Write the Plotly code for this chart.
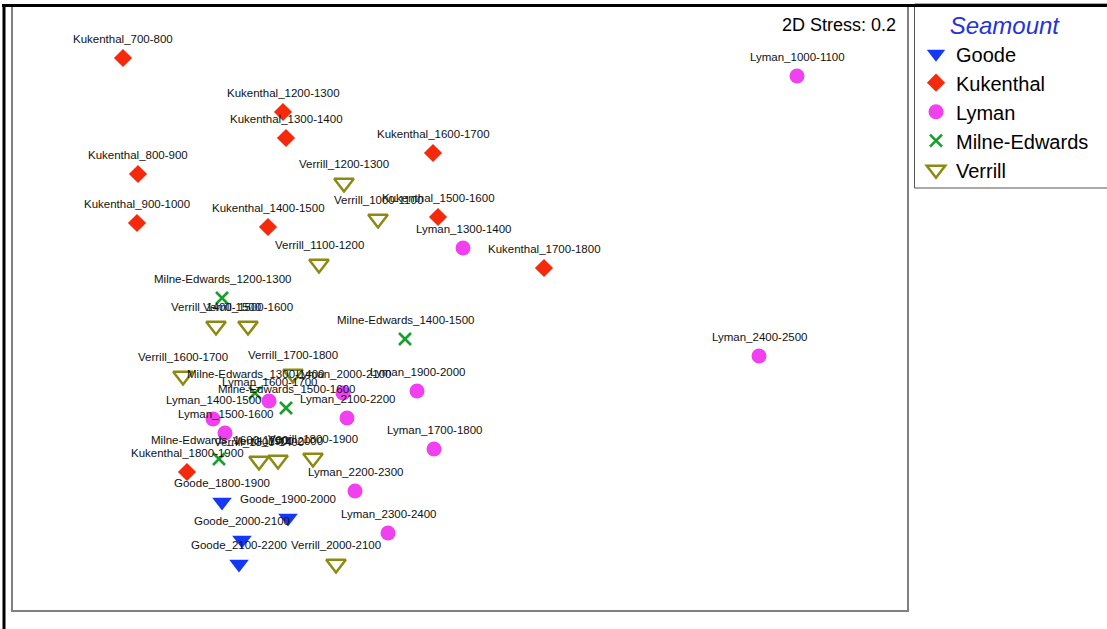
import plotly.graph_objects as go

# MDS ordination coordinates (dimension 1, dimension 2) for each seamount / depth band
goode_labels = ["Goode_1800-1900", "Goode_1900-2000", "Goode_2000-2100", "Goode_2100-2200"]
goode_x = [-1.19, -0.86, -1.09, -1.105]
goode_y = [-0.97, -1.05, -1.16, -1.28]

kukenthal_labels = ["Kukenthal_700-800", "Kukenthal_800-900", "Kukenthal_900-1000",
                    "Kukenthal_1200-1300", "Kukenthal_1300-1400", "Kukenthal_1400-1500",
                    "Kukenthal_1500-1600", "Kukenthal_1600-1700", "Kukenthal_1700-1800",
                    "Kukenthal_1800-1900"]
kukenthal_x = [-1.685, -1.61, -1.615, -0.885, -0.87, -0.96, -0.11, -0.135, 0.42, -1.365]
kukenthal_y = [1.25, 0.67, 0.425, 0.98, 0.85, 0.405, 0.455, 0.775, 0.2, -0.82]

lyman_labels = ["Lyman_1000-1100", "Lyman_1300-1400", "Lyman_1400-1500", "Lyman_1500-1600",
                "Lyman_1600-1700", "Lyman_1700-1800", "Lyman_1900-2000", "Lyman_2000-2100",
                "Lyman_2100-2200", "Lyman_2200-2300", "Lyman_2300-2400", "Lyman_2400-2500"]
lyman_x = [1.685, 0.015, -1.235, -1.175, -0.955, -0.13, -0.215, -0.585, -0.565, -0.525, -0.36, 1.495]
lyman_y = [1.16, 0.3, -0.555, -0.625, -0.465, -0.705, -0.415, -0.425, -0.55, -0.915, -1.125, -0.24]

milne_labels = ["Milne-Edwards_1200-1300", "Milne-Edwards_1300-1400", "Milne-Edwards_1400-1500",
                "Milne-Edwards_1500-1600", "Milne-Edwards_1600-1700"]
milne_x = [-1.19, -1.025, -0.275, -0.87, -1.205]
milne_y = [0.05, -0.425, -0.155, -0.5, -0.755]

verrill_labels = ["Verrill_1000-1100", "Verrill_1100-1200", "Verrill_1200-1300",
                  "Verrill_1300-1400", "Verrill_1400-1500", "Verrill_1500-1600",
                  "Verrill_1600-1700", "Verrill_1700-1800", "Verrill_1800-1900",
                  "Verrill_1900-2000", "Verrill_2000-2100"]
verrill_x = [-0.41, -0.705, -0.58, -1.005, -1.22, -1.06, -1.385, -0.835, -0.735, -0.91, -0.62]
verrill_y = [0.445, 0.22, 0.625, -0.765, -0.09, -0.09, -0.34, -0.33, -0.75, -0.76, -1.28]

stress_text = "2D Stress: 0.2"

FONT = "Arial, Liberation Sans, sans-serif"

groups = [
    # name, labels, x, y, symbol, colour, size, line width
    ("Goode", goode_labels, goode_x, goode_y, "triangle-down", "#1438f5", 17, 0),
    ("Kukenthal", kukenthal_labels, kukenthal_x, kukenthal_y, "diamond", "#f52a0c", 14, 0),
    ("Lyman", lyman_labels, lyman_x, lyman_y, "circle", "#f040f0", 15, 0),
    ("Milne-Edwards", milne_labels, milne_x, milne_y, "x-thin-open", "#16a02a", 12, 2.6),
    ("Verrill", verrill_labels, verrill_x, verrill_y, "triangle-down-open", "#8c8a12", 17, 2.5),
]

fig = go.Figure()
annotations = []
for name, labels, xs, ys, sym, col, size, lw in groups:
    marker = dict(symbol=sym, color=col, size=size)
    if lw:
        marker["line"] = dict(color=col, width=lw)
    else:
        marker["line"] = dict(width=0)
    fig.add_trace(go.Scatter(x=xs, y=ys, mode="markers", name=name, marker=marker,
                             hoverinfo="text", text=labels))
    for lab, x, y in zip(labels, xs, ys):
        annotations.append(dict(x=x, y=y, xref="x", yref="y", text=lab, showarrow=False,
                                yshift=19, font=dict(family=FONT, size=11.5, color="#111111"),
                                xanchor="center", yanchor="middle"))

annotations.append(dict(x=0.99, y=0.988, xref="paper", yref="paper", text=stress_text,
                        showarrow=False, xanchor="right", yanchor="top",
                        font=dict(family=FONT, size=18, color="#000000")))

# plot area occupies pixels x 13..907, y 6..610 of the 1107x629 page
L, R, T, B = 13, 200, 6, 19
W, H = 1107, 629
pw, ph = W - L - R, H - T - B


def px(p):
    return (p - L) / pw


def py(q):
    return (H - B - q) / ph


shapes = [
    # legend frame running off the right edge of the page
    dict(type="rect", xref="paper", yref="paper", layer="below",
         x0=px(914.5), x1=px(W + 10), y0=py(188), y1=py(4),
         fillcolor="white", line=dict(color="#555555", width=1)),
    # outer page frame (top and left)
    dict(type="line", xref="paper", yref="paper", x0=px(2), x1=px(W + 5), y0=py(5.5), y1=py(5.5),
         line=dict(color="black", width=3)),
    dict(type="line", xref="paper", yref="paper", x0=px(4), x1=px(4), y0=py(4), y1=py(H + 5),
         line=dict(color="black", width=3)),
]

fig.update_layout(
    width=W, height=H,
    margin=dict(l=L, r=R, t=T, b=B, autoexpand=False),
    paper_bgcolor="white", plot_bgcolor="white",
    font=dict(family=FONT, color="black"),
    xaxis=dict(range=[-2.235, 2.235], showgrid=False, zeroline=False, showticklabels=False,
               ticks="", showline=True, mirror=True, linecolor="#808080", linewidth=2),
    yaxis=dict(range=[-1.51, 1.51], showgrid=False, zeroline=False, showticklabels=False,
               ticks="", showline=True, mirror=True, linecolor="#808080", linewidth=2),
    legend=dict(x=px(916), y=py(3), xanchor="left", yanchor="top",
                bgcolor="rgba(0,0,0,0)", borderwidth=0,
                font=dict(family=FONT, size=20, color="black"),
                title=dict(text="<i>Seamount</i>", side="top center",
                           font=dict(family=FONT, size=24, color="#2233dd")),
                itemwidth=30),
    annotations=annotations,
    shapes=shapes,
    showlegend=True,
)

fig.write_html("out.html")
